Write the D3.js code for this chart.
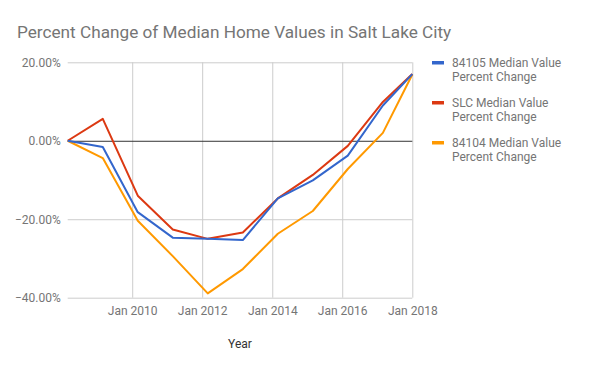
<!DOCTYPE html>
<html>
<head>
<meta charset="utf-8">
<script src="https://cdn.jsdelivr.net/npm/d3@7"></script>
<style>
  body { margin: 0; background: #fff; }
  svg { font-family: Roboto, "Noto Sans", sans-serif; }
</style>
</head>
<body>
<div class="chart"></div>
<script>
// data
var dates = ["2008-02-28", "2009-02-28", "2010-02-28", "2011-02-28", "2012-02-28", "2013-02-28",
             "2014-02-28", "2015-02-28", "2016-02-28", "2017-02-28", "2018-01-01"];
var zip84105 = [0, -1.6, -18.2, -24.7, -25.0, -25.3, -14.7, -10.1, -3.8, 9.0, 17.0];
var slc = [0, 5.6, -14.0, -22.6, -25.0, -23.4, -14.7, -8.7, -1.3, 9.9, 17.0];
var zip84104 = [0, -4.4, -20.4, -29.4, -38.9, -32.7, -23.7, -17.9, -7.2, 2.0, 16.9];
var seriesNames = ["84105 Median Value Percent Change", "SLC Median Value Percent Change", "84104 Median Value Percent Change"];
var yTicks = [20, 0, -20, -40];
var xTickYears = [2010, 2012, 2014, 2016, 2018];

var values = { width: 600, height: 371, left: 67.7, right: 412.3, top: 62.3, bottom: 297.7 };
var colors = ["#3366cc", "#dc3912", "#ff9900"];
var parse = d3.timeParse("%Y-%m-%d");
var dts = dates.map(parse);

var series = [zip84105, slc, zip84104].map(function (vals, i) {
  return { name: seriesNames[i], color: colors[i],
           pts: vals.map(function (v, j) { return { x: dts[j], y: v }; }) };
});

var x = d3.scaleTime()
          .domain(d3.extent(dts))
          .range([values.left, values.right]);
var y = d3.scaleLinear()
          .domain([-40, 20])
          .range([values.bottom, values.top]);

var svg = d3.select(".chart").append("svg")
            .attr("width", values.width)
            .attr("height", values.height);

// title
svg.append("text")
   .attr("x", 17).attr("y", 38)
   .attr("fill", "#757575")
   .style("font-size", "17.2px")
   .text("Percent Change of Median Home Values in Salt Lake City");

// horizontal gridlines + y labels
var yAxis = d3.axisLeft(y).tickValues(yTicks)
              .tickSize(-(values.right - values.left))
              .tickPadding(7)
              .tickFormat(function (d) { return d3.format(".2f")(d) + "%"; });
var gy = svg.append("g")
   .attr("transform", "translate(" + values.left + ",0)")
   .call(yAxis);
gy.select(".domain").remove();
gy.selectAll(".tick line").attr("stroke", function (d) { return d === 0 ? "#333" : "#ccc"; });
gy.selectAll(".tick text").attr("fill", "#757575").style("font-size", "12px")
  .style("font-family", "Roboto, sans-serif");
// keep the zero line on top of the gridlines
gy.selectAll(".tick").filter(function (d) { return d === 0; }).raise();

// vertical gridlines + x labels
var xAxis = d3.axisBottom(x)
              .tickValues(xTickYears.map(function (yr) { return new Date(yr, 0, 1); }))
              .tickSize(-(values.bottom - values.top))
              .tickPadding(9)
              .tickFormat(d3.timeFormat("Jan %Y"));
var gx = svg.append("g")
   .attr("transform", "translate(0," + values.bottom + ")")
   .call(xAxis);
gx.select(".domain").remove();
gx.selectAll(".tick line").attr("stroke", "#ccc");
gx.selectAll(".tick text").attr("fill", "#757575").style("font-size", "12px")
  .style("font-family", "Roboto, sans-serif");
gy.raise();

// axis title
svg.append("text")
   .attr("x", 240).attr("y", 348)
   .attr("text-anchor", "middle")
   .attr("fill", "#333")
   .style("font-size", "12px")
   .text("Year");

// lines
var line = d3.line()
             .x(function (d) { return x(d.x); })
             .y(function (d) { return y(d.y); });

svg.selectAll("path.series")
   .data(series.slice().reverse())
   .enter().append("path")
   .attr("class", "series")
   .attr("fill", "none")
   .attr("stroke", function (d) { return d.color; })
   .attr("stroke-width", 2)
   .attr("stroke-linejoin", "round")
   .attr("d", function (d) { return line(d.pts); });

// legend
var leg = svg.selectAll("g.legend")
   .data(series)
   .enter().append("g")
   .attr("class", "legend")
   .attr("transform", function (d, i) { return "translate(432," + (62.5 + i * 40) + ")"; });
leg.append("rect")
   .attr("x", 0).attr("y", -1.5)
   .attr("width", 12).attr("height", 3.5)
   .attr("fill", function (d) { return d.color; });
leg.append("text")
   .attr("x", 20).attr("y", 4.2)
   .attr("fill", "#757575")
   .style("font-size", "12px")
   .each(function (d) {
     var words = d.name.split(" ");
     var t = d3.select(this);
     t.append("tspan").attr("x", 20).attr("dy", 0).text(words.slice(0, 3).join(" "));
     t.append("tspan").attr("x", 20).attr("dy", 14).text(words.slice(3).join(" "));
   });
</script>
</body>
</html>
